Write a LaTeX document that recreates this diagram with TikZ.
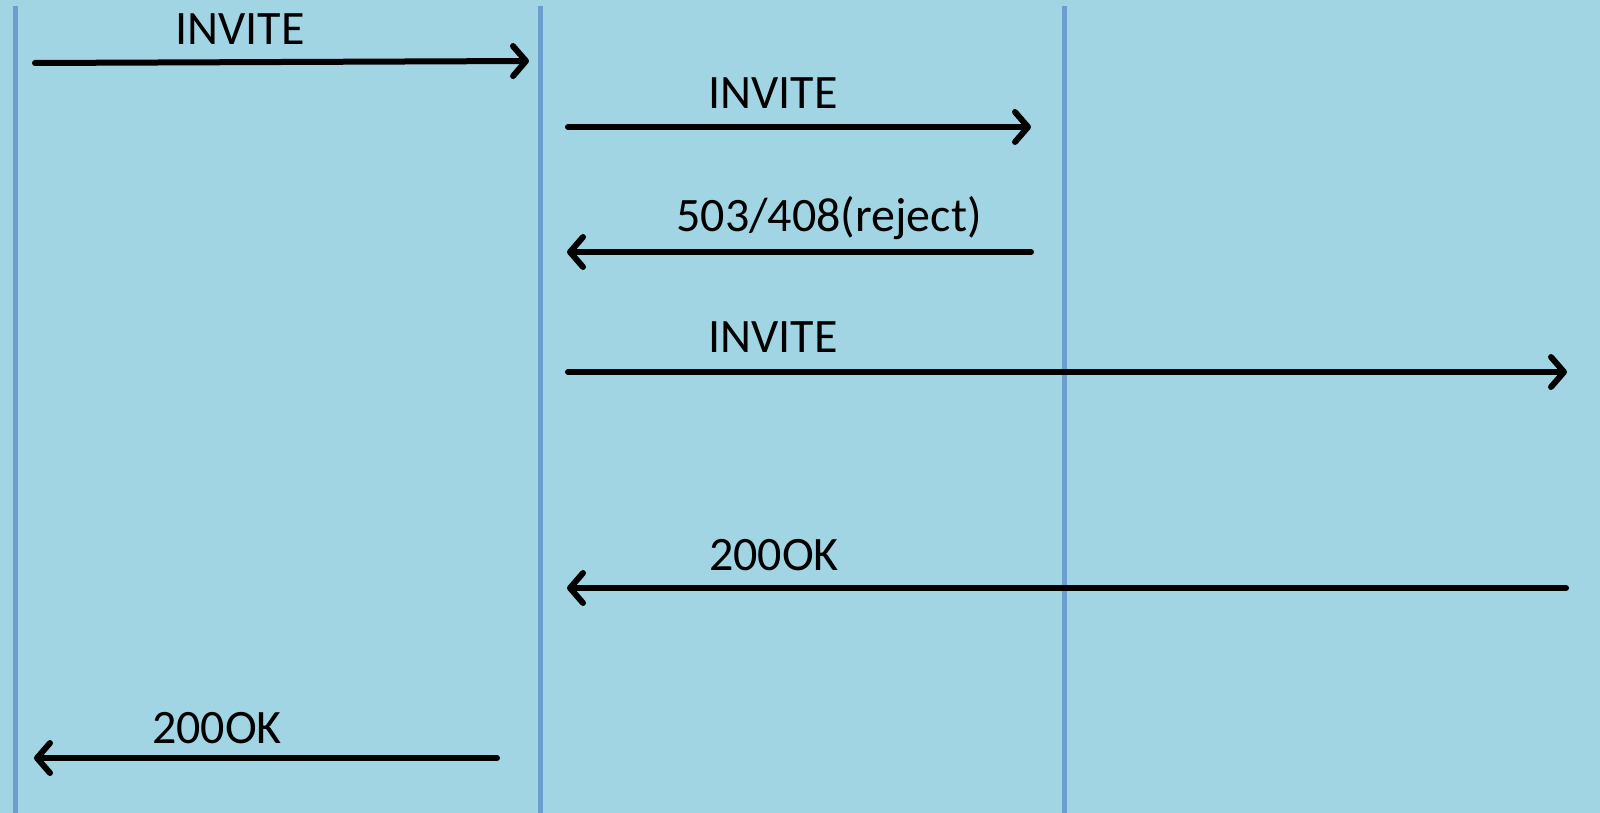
\documentclass[tikz,border=0pt]{standalone}
\usepackage{fontspec}
\setmainfont{Carlito}
\usetikzlibrary{arrows.meta}
\definecolor{bgc}{HTML}{A2D5E4}
\definecolor{lifec}{HTML}{6C9DCF}
\tikzset{
  lifeline/.style={draw=lifec, line width=5pt},
  msg/.style={draw=black, line width=6pt, line cap=round, -{Straight Barb[length=13pt,width=30pt,line cap=round,line join=round]}},
  lbl/.style={inner sep=0pt, font=\fontsize{48}{58}\selectfont, text=black}
}
\begin{document}
\begin{tikzpicture}[x=1pt,y=-1pt]
\fill[bgc] (0,0) rectangle (1600,813);
\useasboundingbox (0,0) rectangle (1600,813);
% lifelines
\coordinate (A1) at (15,6);  \coordinate (A2) at (15,813);
\coordinate (B1) at (540,6); \coordinate (B2) at (540,813);
\coordinate (C1) at (1064,6); \coordinate (C2) at (1064,813);
\draw[lifeline] (A1) -- (A2);
\draw[lifeline] (B1) -- (B2);
\draw[lifeline] (C1) -- (C2);
% message end points
\coordinate (m1s) at (35,63);   \coordinate (m1e) at (529,61);
\coordinate (m2s) at (568,127); \coordinate (m2e) at (1031,127);
\coordinate (m3s) at (1031,252); \coordinate (m3e) at (567,252);
\coordinate (m4s) at (568,372); \coordinate (m4e) at (1567,372);
\coordinate (m5s) at (1566,588); \coordinate (m5e) at (567,588);
\coordinate (m6s) at (497,758); \coordinate (m6e) at (34,758);
\draw[msg] (m1s) -- (m1e);
\draw[msg] (m2s) -- (m2e);
\draw[msg] (m3s) -- (m3e);
\draw[msg] (m4s) -- (m4e);
\draw[msg] (m5s) -- (m5e);
\draw[msg] (m6s) -- (m6e);
% labels
\node[lbl] (l1) at (240,29) {INVITE};
\node[lbl] (l2) at (773,93) {INVITE};
\node[lbl] (l3) at (829,218) {503/408(reject)};
\node[lbl] (l4) at (773,337) {INVITE};
\node[lbl] (l5) at (774,555) {200OK};
\node[lbl] (l6) at (217,728) {200OK};
\end{tikzpicture}
\end{document}
